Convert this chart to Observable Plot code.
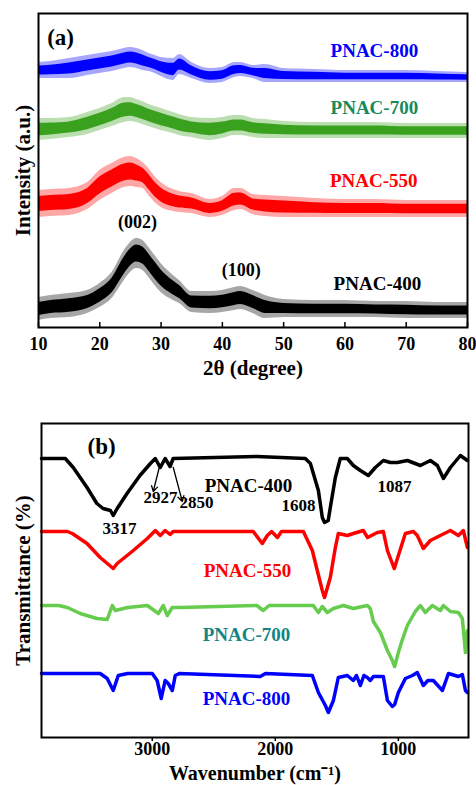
<!DOCTYPE html>
<html>
<head>
<meta charset="utf-8">
<script src="https://cdn.jsdelivr.net/npm/d3@7"></script>
<script src="https://cdn.jsdelivr.net/npm/@observablehq/plot@0.6"></script>
<style>
  html, body { margin: 0; padding: 0; background: #fff; }
  #chart { width: 476px; }
  #chart svg { display: block; }
</style>
</head>
<body>
<div id="chart"></div>
<script>
// ---------- Panel (a): XRD ----------
const theta = [10,12,15,18,20,22,24,25,26,27,28,29,30,32,33,35,38,40,42,43,45,47,50,55,60,65,70,75,80];
const hi800 = [265,266,269,272,274,276,279,280,279,277,274,272,270,269,273,265,259,260,265,265,262,263,259,258,257,257,257,256,255];
const lo800 = [249,249,249,252,254,256,259,260,259,257,256,254,251,247,253,249,244,245,250,251,249,245,245,245,245,245,245,245,245];
const hi700 = [209,209,210,215,219,224,230,230,228,226,223,221,219,215,213,210,209,210,212,212,209,208,206,205,205,205,204,204,204];
const lo700 = [187,188,190,193,197,201,205,206,205,203,201,199,197,194,192,190,187,189,192,192,190,189,189,189,189,189,189,189,189];
const hi550 = [137,138,139,145,157,164,170,171,169,165,159,151,145,138,136,134,128,131,139,139,133,132,131,129,128,128,127,127,127];
const lo550 = [110,111,112,118,127,134,140,141,140,139,132,125,120,116,115,114,110,112,117,118,113,111,110,110,110,110,110,110,110];
const hi400 = [30,32,34,37,44,55,77,85,89,87,80,72,64,52,47,36,36,37,40,41,37,32,28,27,27,26,26,25,25];
const lo400 = [7,9,10,14,20,29,47,55,59,57,50,42,35,27,24,15,14,15,17,18,14,9,10,10,10,10,9,9,9];
const xrdTicks = [10,20,30,40,50,60,70,80];

// ---------- Panel (b): FTIR ----------
const wn400 = [3900,3707,3642,3530,3450,3400,3340,3317,3285,3205,3100,3015,2975,2935,2895,2855,2830,2150,1756,1715,1691,1650,1618,1600,1570,1553,1512,1472,1415,1366,1309,1244,1187,1122,1065,1008,927,821,740,683,634,577,496,439];
const tr400 = [279,279,270,250,234,229,227,222,229,244,262,274,279,270,279,271,279,281,279,274,264,247,220,215,217,230,260,279,279,272,267,262,270,277,275,275,277,272,277,272,259,270,282,277];
const wn550 = [3900,3690,3650,3530,3423,3317,3285,3154,3040,2975,2935,2895,2855,2830,2179,2106,2065,2030,1983,1950,1772,1699,1659,1618,1600,1553,1512,1488,1415,1366,1285,1250,1171,1122,1089,1049,1033,1000,943,878,846,797,740,659,577,512,472,439];
const tr550 = [206,206,204,194,180,169,174,187,199,207,202,207,203,206,206,194,202,206,200,206,206,187,167,147,140,160,190,204,202,204,207,200,205,206,187,174,169,182,204,206,202,189,197,202,207,202,207,190];
const wn700 = [3900,3760,3690,3585,3450,3366,3325,3300,3200,3040,2950,2910,2878,2837,2772,2150,2098,2050,1691,1650,1618,1577,1528,1447,1366,1252,1228,1203,1146,1089,1049,1030,1000,970,927,862,821,781,724,659,634,577,512,480,455,439];
const tr700 = [132,132,130,124,119,118,132,127,130,132,124,132,122,130,130,132,127,132,132,125,131,125,129,132,129,132,129,116,105,87,77,71,85,97,112,126,132,125,132,127,132,126,125,119,85,107];
const wn800 = [3900,3423,3366,3317,3276,3200,3000,2960,2927,2895,2870,2837,2813,2780,2122,2080,1699,1650,1593,1569,1528,1488,1415,1366,1340,1309,1280,1252,1228,1203,1122,1089,1049,1030,1000,943,886,846,797,760,716,642,593,512,480,455,439];
const tr800 = [64,64,59,47,62,64,64,57,39,57,54,47,62,64,61,64,62,45,32,25,37,60,62,57,62,52,62,60,57,61,61,37,31,33,45,59,62,65,52,57,57,47,64,61,63,47,45];
const ftirTicks = [3000,2000,1000];

const font = "'Liberation Serif', 'Times New Roman', serif";
const baseStyle = {fontFamily: font, fontWeight: "bold", fontSize: "18px", background: "white", overflow: "visible"};

const band = (hi, lo) => theta.map((t, i) => ({t, hi: hi[i], lo: lo[i]}));
const spec = (wn, tr) => wn.map((w, i) => ({w, v: tr[i]}));

const xrdSeries = [
  {hi: hi800, lo: lo800, color: "#0000ff"},
  {hi: hi700, lo: lo700, color: "#3aa11e"},
  {hi: hi550, lo: lo550, color: "#ff0000"},
  {hi: hi400, lo: lo400, color: "#000000"}
];

const xrdMarks = [];
for (const s of xrdSeries) {
  const d = band(s.hi, s.lo);
  // faint outer envelope (noise spikes) and dense inner core
  xrdMarks.push(Plot.areaY(d, {x: "t", y1: "lo", y2: "hi", fill: s.color, fillOpacity: 0.35, curve: "monotone-x"}));
  xrdMarks.push(Plot.areaY(d, {x: "t", y1: d => d.lo + 0.22 * (d.hi - d.lo), y2: d => d.hi - 0.22 * (d.hi - d.lo), fill: s.color, curve: "monotone-x"}));
}

const plotA = Plot.plot({
  width: 476, height: 390,
  marginLeft: 38, marginRight: 9, marginTop: 13, marginBottom: 63,
  style: baseStyle,
  x: {domain: [10, 80]},
  y: {domain: [0, 314], axis: null},
  marks: [
    ...xrdMarks,
    Plot.ruleX(xrdTicks, {x: d => d, y1: 0, y2: 5, stroke: "black", strokeWidth: 1.5}),
    Plot.axisX(xrdTicks, {tickSize: 0, tickPadding: 10, fontSize: 18, label: null, tickFormat: d => String(d)}),
    Plot.text(["(a)"], {x: 13.6, y: 290, fontSize: 23, text: d => d}),
    Plot.text(["PNAC-800"], {x: 64.8, y: 277, fontSize: 19, fill: "#0000ff", text: d => d}),
    Plot.text(["PNAC-700"], {x: 64.8, y: 220, fontSize: 19, fill: "#178a5c", text: d => d}),
    Plot.text(["PNAC-550"], {x: 64.7, y: 147, fontSize: 19, fill: "#ff0000", text: d => d}),
    Plot.text(["PNAC-400"], {x: 65.3, y: 44, fontSize: 19, fill: "#000000", text: d => d}),
    Plot.text(["(002)"], {x: 26.15, y: 105, fontSize: 18, text: d => d}),
    Plot.text(["(100)"], {x: 43.1, y: 57, fontSize: 18, text: d => d}),
    Plot.text(["Intensity (a.u.)"], {frameAnchor: "left", dx: -15, rotate: -90, textAnchor: "middle", lineAnchor: "middle", fontSize: 21, text: d => d}),
    Plot.text(["2θ (degree)"], {frameAnchor: "bottom", dy: 41, textAnchor: "middle", lineAnchor: "middle", fontSize: 21, text: d => d}),
    Plot.frame({stroke: "black", strokeWidth: 2})
  ]
});

const ftirSeries = [
  {wn: wn400, tr: tr400, color: "#000000"},
  {wn: wn550, tr: tr550, color: "#ff0000"},
  {wn: wn700, tr: tr700, color: "#66cc4d"},
  {wn: wn800, tr: tr800, color: "#0000ff"}
];

const plotB = Plot.plot({
  width: 476, height: 395,
  marginLeft: 41, marginRight: 8, marginTop: 33, marginBottom: 48,
  style: baseStyle,
  x: {domain: [3900, 430]},
  y: {domain: [0, 314], axis: null},
  marks: [
    ...ftirSeries.map(s => Plot.line(spec(s.wn, s.tr), {x: "w", y: "v", stroke: s.color, strokeWidth: 3.5, strokeLinejoin: "round", strokeLinecap: "round"})),
    Plot.axisX(ftirTicks, {tickSize: 4, tickPadding: 1, fontSize: 18, label: null, strokeWidth: 1.5, tickFormat: d => String(d)}),
    Plot.arrow([0], {x1: 2943, y1: 270, x2: 2992, y2: 246, stroke: "black", strokeWidth: 1.3, headLength: 7}),
    Plot.arrow([0], {x1: 2829, y1: 270, x2: 2756, y2: 236, stroke: "black", strokeWidth: 1.3, headLength: 7}),
    Plot.text(["(b)"], {x: 3412, y: 291, fontSize: 23, text: d => d}),
    Plot.text(["PNAC-400"], {x: 2218, y: 252, fontSize: 19, fill: "#000000", text: d => d}),
    Plot.text(["3317"], {x: 3266, y: 209, fontSize: 17, text: d => d}),
    Plot.text(["2927"], {x: 2933, y: 240, fontSize: 17, text: d => d}),
    Plot.text(["2850"], {x: 2640, y: 235, fontSize: 17, text: d => d}),
    Plot.text(["1608"], {x: 1812, y: 232, fontSize: 17, text: d => d}),
    Plot.text(["1087"], {x: 1031, y: 251, fontSize: 17, text: d => d}),
    Plot.text(["PNAC-550"], {x: 2226, y: 167, fontSize: 19, fill: "#ff0000", text: d => d}),
    Plot.text(["PNAC-700"], {x: 2234, y: 103, fontSize: 19, fill: "#138585", text: d => d}),
    Plot.text(["PNAC-800"], {x: 2234, y: 39, fontSize: 19, fill: "#0000ff", text: d => d}),
    Plot.text(["Transmittance (%)"], {frameAnchor: "left", dx: -18, rotate: -90, textAnchor: "middle", lineAnchor: "middle", fontSize: 21, text: d => d}),
    Plot.text(["Wavenumber (cm⁻¹)"], {frameAnchor: "bottom", dy: 36, textAnchor: "middle", lineAnchor: "middle", fontSize: 20, text: d => d}),
    Plot.frame({stroke: "black", strokeWidth: 2})
  ]
});

const chart = document.getElementById("chart");
chart.appendChild(plotA);
chart.appendChild(plotB);
</script>
</body>
</html>
